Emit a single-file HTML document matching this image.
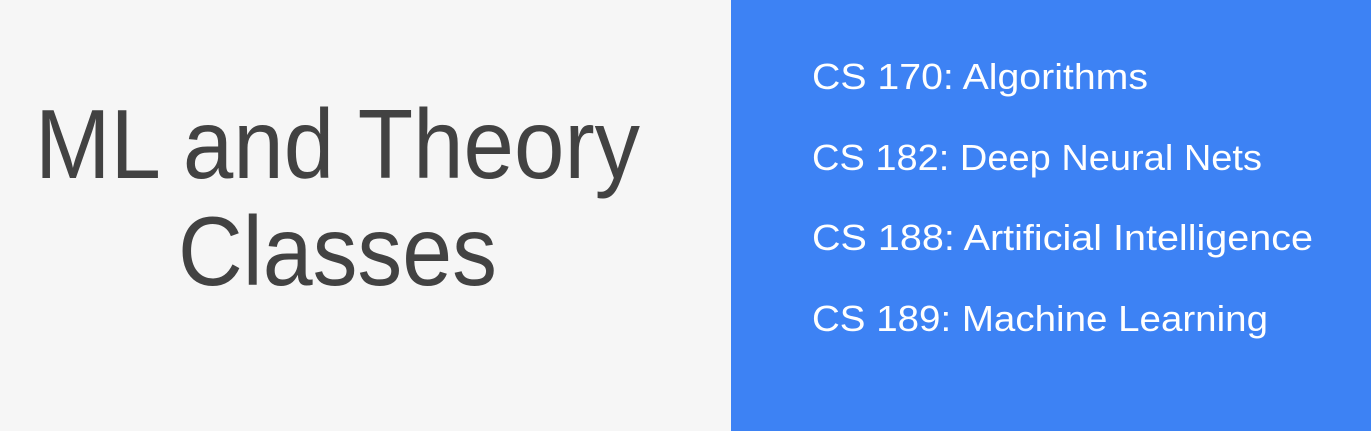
<!DOCTYPE html>
<html>
<head>
<meta charset="utf-8">
<style>
  html,body{margin:0;padding:0;width:1371px;height:431px;overflow:hidden;background:#f6f6f6;}
  svg{display:block;}
  text{font-family:"Liberation Sans",Arial,sans-serif;}
</style>
</head>
<body>
<svg width="1371" height="431" viewBox="0 0 1371 431">
  <rect x="0" y="0" width="731" height="431" fill="#f6f6f6"/>
  <rect x="731" y="0" width="640" height="431" fill="#3d82f4"/>

  <g fill="#424242" font-size="98">
    <text x="35" y="178" textLength="605" lengthAdjust="spacingAndGlyphs">ML and Theory</text>
    <text x="178" y="285" textLength="319" lengthAdjust="spacingAndGlyphs">Classes</text>
  </g>

  <g fill="#ffffff" font-size="36">
    <text x="812" y="89" textLength="336" lengthAdjust="spacingAndGlyphs">CS 170: Algorithms</text>
    <text x="812" y="170" textLength="450" lengthAdjust="spacingAndGlyphs">CS 182: Deep Neural Nets</text>
    <text x="812" y="250" textLength="501" lengthAdjust="spacingAndGlyphs">CS 188: Artificial Intelligence</text>
    <text x="812" y="331" textLength="456" lengthAdjust="spacingAndGlyphs">CS 189: Machine Learning</text>
  </g>
</svg>
</body>
</html>
